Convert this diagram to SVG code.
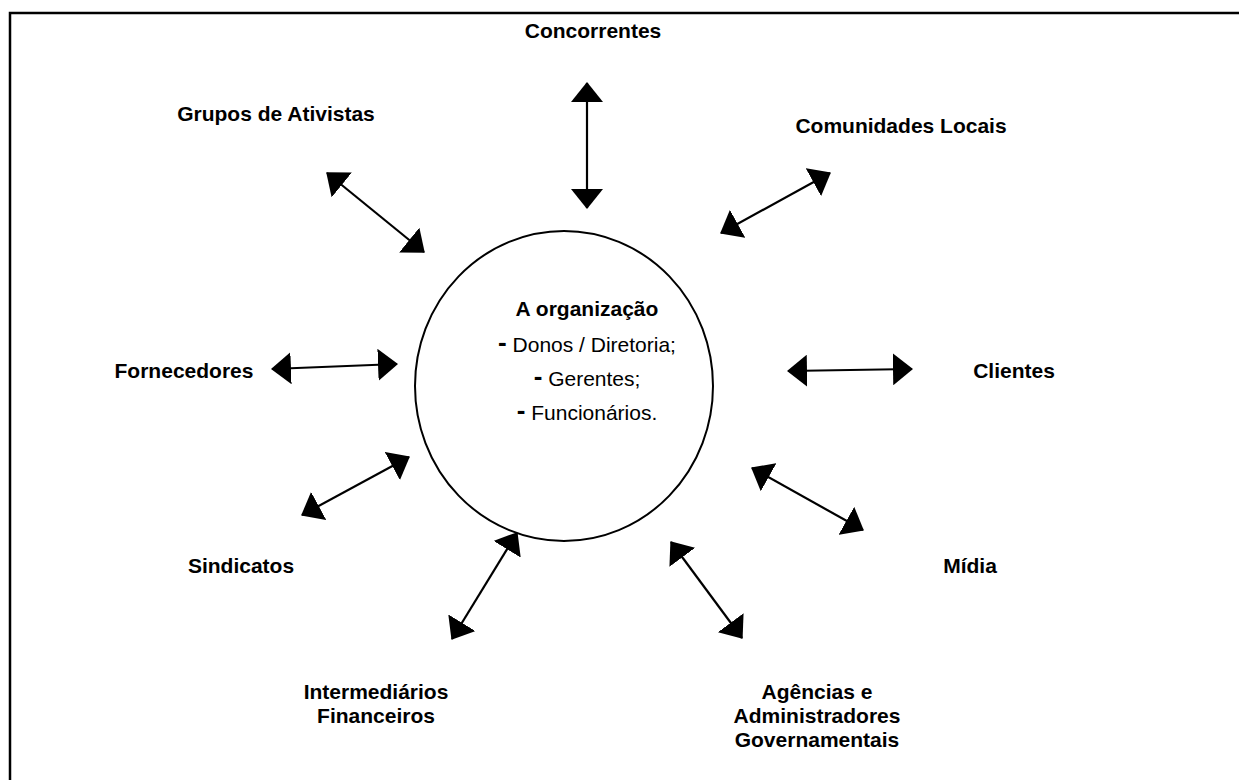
<svg xmlns="http://www.w3.org/2000/svg" width="1239" height="780" viewBox="0 0 1239 780">
  <style>
    .frame { fill: none; stroke: #000; stroke-width: 2.5; }
    .core { fill: #fff; stroke: #000; stroke-width: 2; }
    .link { stroke: #000; stroke-width: 2.2; fill: none; marker-start: url(#head); marker-end: url(#head); }
    .label { font-family: "Liberation Sans", Arial, sans-serif; font-weight: bold; font-size: 21px; fill: #000; text-anchor: middle; }
    .title { font-family: "Liberation Sans", Arial, sans-serif; font-weight: bold; font-size: 21px; fill: #000; text-anchor: middle; }
    .item { font-family: "Liberation Sans", Arial, sans-serif; font-size: 21px; fill: #000; text-anchor: middle; }
    .dash { font-weight: bold; font-size: 26px; }
  </style>
  <defs>
    <marker id="head" viewBox="0 0 20 32" refX="19" refY="16" markerWidth="20" markerHeight="32" markerUnits="userSpaceOnUse" orient="auto-start-reverse">
      <path d="M0,0 L20,16 L0,32 Z" fill="#000"/>
    </marker>
  </defs>

  <rect width="1239" height="780" fill="#fff"/>
  <!-- outer frame, running off the right and bottom edges -->
  <rect class="frame" x="10" y="13" width="1260" height="800"/>

  <g id="connectors">
    <line class="link" x1="587" y1="83" x2="587" y2="208"/>
    <line class="link" x1="721" y1="233" x2="830" y2="173"/>
    <line class="link" x1="327" y1="173" x2="424" y2="252"/>
    <line class="link" x1="272" y1="369" x2="397" y2="364"/>
    <line class="link" x1="788" y1="371" x2="912" y2="369"/>
    <line class="link" x1="302" y1="515" x2="409" y2="457"/>
    <line class="link" x1="752" y1="468" x2="863" y2="530"/>
    <line class="link" x1="452" y1="639" x2="517" y2="533"/>
    <line class="link" x1="671" y1="542" x2="742" y2="638"/>
  </g>

  <g id="organizacao">
    <ellipse class="core" cx="564" cy="386" rx="149" ry="155"/>
    <text class="title" x="587" y="316">A organização</text>
    <text class="item" x="587" y="352"><tspan class="dash" dy="-1">-</tspan><tspan dy="1"> Donos / Diretoria;</tspan></text>
    <text class="item" x="587" y="386"><tspan class="dash" dy="-1">-</tspan><tspan dy="1"> Gerentes;</tspan></text>
    <text class="item" x="587" y="420"><tspan class="dash" dy="-1">-</tspan><tspan dy="1"> Funcionários.</tspan></text>
  </g>

  <g id="concorrentes"><text class="label" x="593" y="38">Concorrentes</text></g>
  <g id="grupos-ativistas"><text class="label" x="276" y="121">Grupos de Ativistas</text></g>
  <g id="comunidades-locais"><text class="label" x="901" y="133">Comunidades Locais</text></g>
  <g id="fornecedores"><text class="label" x="184" y="378">Fornecedores</text></g>
  <g id="clientes"><text class="label" x="1014" y="378">Clientes</text></g>
  <g id="sindicatos"><text class="label" x="241" y="573">Sindicatos</text></g>
  <g id="midia"><text class="label" x="970" y="573">Mídia</text></g>
  <g id="intermediarios">
    <text class="label" x="376" y="699">Intermediários</text>
    <text class="label" x="376" y="723">Financeiros</text>
  </g>
  <g id="agencias">
    <text class="label" x="817" y="699">Agências e</text>
    <text class="label" x="817" y="723">Administradores</text>
    <text class="label" x="817" y="747">Governamentais</text>
  </g>
</svg>
